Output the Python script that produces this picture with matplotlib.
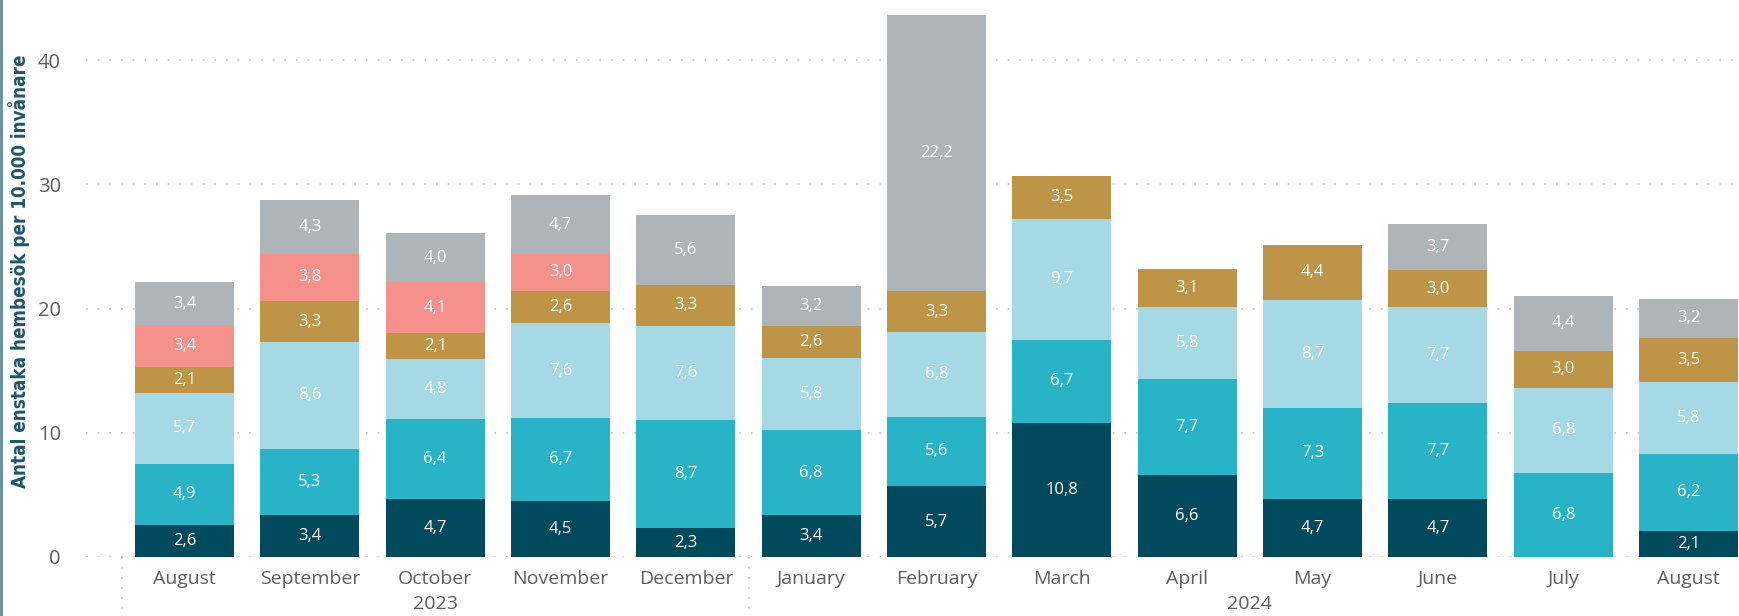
import numpy as np
import matplotlib
matplotlib.use("Agg")
import matplotlib.pyplot as plt
from matplotlib.lines import Line2D

months = ["August", "September", "October", "November", "December",
          "January", "February", "March", "April", "May", "June", "July", "August"]
years = ["2023", "2024"]
year_spans = [(-0.5, 4.5), (4.5, 12.5)]

nan = np.nan
# segments from bottom to top
seg_dark = [2.6, 3.4, 4.7, 4.5, 2.3, 3.4, 5.7, 10.8, 6.6, 4.7, 4.7, nan, 2.1]
seg_teal = [4.9, 5.3, 6.4, 6.7, 8.7, 6.8, 5.6, 6.7, 7.7, 7.3, 7.7, 6.8, 6.2]
seg_light = [5.7, 8.6, 4.8, 7.6, 7.6, 5.8, 6.8, 9.7, 5.8, 8.7, 7.7, 6.8, 5.8]
seg_gold = [2.1, 3.3, 2.1, 2.6, 3.3, 2.6, 3.3, 3.5, 3.1, 4.4, 3.0, 3.0, 3.5]
seg_salmon = [3.4, 3.8, 4.1, 3.0, nan, nan, nan, nan, nan, nan, nan, nan, nan]
seg_gray = [3.4, 4.3, 4.0, 4.7, 5.6, 3.2, 22.2, nan, nan, nan, 3.7, 4.4, 3.2]

series = [seg_dark, seg_teal, seg_light, seg_gold, seg_salmon, seg_gray]
colors = ["#014A5E", "#28B3C6", "#A6D9E6", "#BE9446", "#F3918A", "#AEB5B8"]

plt.rcParams["font.family"] = ["Open Sans", "DejaVu Sans"]

fig = plt.figure(figsize=(17.4, 6.16), dpi=100)
ax = fig.add_axes([86 / 1740, 59 / 616, 1 - 86 / 1740, 557 / 616])

x = np.arange(len(months))
bottom = np.zeros(len(months))
for vals, col in zip(series, colors):
    v = np.nan_to_num(np.array(vals, dtype=float))
    ax.bar(x, v, width=0.79, bottom=bottom, color=col, linewidth=0, zorder=3)
    for i, val in enumerate(vals):
        if not np.isnan(val):
            ax.text(x[i], bottom[i] + val / 2, f"{val:.1f}".replace(".", ","),
                    ha="center", va="center", color="white", fontsize=12, zorder=4)
    bottom += v

ax.set_xlim(-0.786, 12.41)
ax.set_ylim(0, 44.83)
ax.set_yticks([0, 10, 20, 30, 40])
ax.yaxis.grid(True, color="#C4C4C4", linestyle=(0, (1, 6)), linewidth=1.2, zorder=0)
ax.set_axisbelow(True)
for s in ax.spines.values():
    s.set_visible(False)
ax.tick_params(axis="y", length=0, pad=18, labelsize=14.5, labelcolor="#605E5C")
ax.tick_params(axis="x", length=0, pad=9, labelsize=14, labelcolor="#605E5C")
ax.set_xticks(x)
ax.set_xticklabels(months)

# year labels and separators
for yr, (a, b) in zip(years, year_spans):
    ax.text((a + b) / 2, -0.068, yr, transform=ax.get_xaxis_transform(),
            ha="center", va="top", fontsize=14, color="#605E5C")
for sep in [-0.5, 4.5]:
    ax.plot([sep, sep], [0, -0.11], transform=ax.get_xaxis_transform(),
            clip_on=False, color="#C4C4C4", linestyle=(0, (1, 5)), linewidth=1.2)

fig.text(19 / 1740, 0.56, "Antal enstaka hembesök per 10.000 invånare",
         rotation=90, ha="center", va="center", fontsize=13.5, fontweight="bold",
         color="#1E5670", family=["DejaVu Sans"], fontstretch="condensed")

fig.add_artist(Line2D([0.0008, 0.0008], [0, 1], transform=fig.transFigure,
                      color="#5E8CA0", linewidth=2))

fig.savefig("out.png", dpi=100, facecolor="white")
